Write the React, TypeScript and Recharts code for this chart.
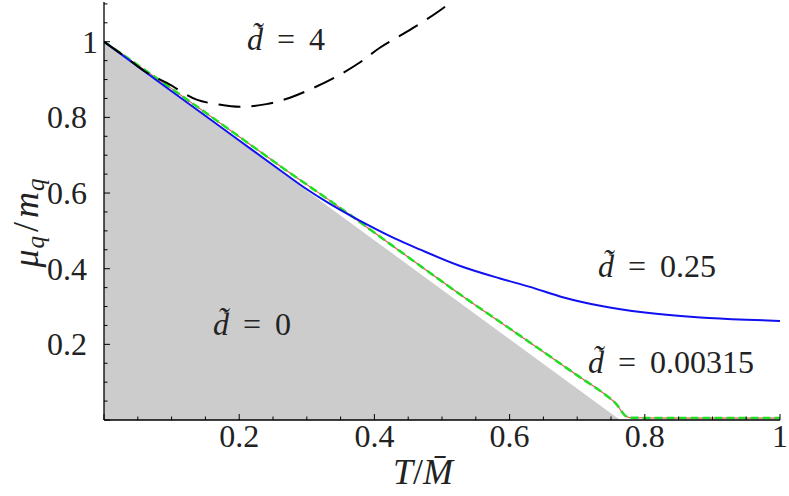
import { ComposedChart, Line, Area, XAxis, YAxis } from 'recharts';

// d~ = 0 region boundary (gray)
const grayT = [0, 0.765, 1];
const grayMu = [1, 0, 0];

// d~ = 4 (black long dash)
const d4T = [0, 0.03, 0.06, 0.093, 0.137, 0.17, 0.201, 0.24, 0.275, 0.31, 0.349, 0.38, 0.408, 0.44, 0.472, 0.512, 0.53];
const d4Mu = [1, 0.962, 0.922, 0.891, 0.847, 0.834, 0.828, 0.835, 0.852, 0.878, 0.913, 0.947, 0.984, 1.018, 1.053, 1.103, 1.13];

// d~ = 0.25 (blue)
const d025T = [0, 0.1, 0.2, 0.26, 0.295, 0.33, 0.36, 0.393, 0.43, 0.467, 0.527, 0.586, 0.63, 0.68, 0.734, 0.8, 0.882, 0.95, 1];
const d025Mu = [1, 0.869, 0.739, 0.661, 0.616, 0.576, 0.545, 0.513, 0.48, 0.451, 0.407, 0.374, 0.352, 0.324, 0.302, 0.284, 0.271, 0.265, 0.262];

// d~ = 0.00315 (green dashed over red)
const dSmallT = [0, 0.1, 0.2, 0.26, 0.35, 0.438, 0.53, 0.63, 0.7, 0.745, 0.758, 0.766, 0.772, 0.78, 0.85, 1];
const dSmallMu = [1, 0.876, 0.749, 0.672, 0.56, 0.446, 0.328, 0.205, 0.118, 0.062, 0.042, 0.022, 0.01, 0.006, 0.005, 0.005];

const xTicks = [0, 0.05, 0.1, 0.15, 0.2, 0.25, 0.3, 0.35, 0.4, 0.45, 0.5, 0.55, 0.6, 0.65, 0.7, 0.75, 0.8, 0.85, 0.9, 0.95, 1];
const yTicks = [0, 0.05, 0.1, 0.15, 0.2, 0.25, 0.3, 0.35, 0.4, 0.45, 0.5, 0.55, 0.6, 0.65, 0.7, 0.75, 0.8, 0.85, 0.9, 0.95, 1, 1.05, 1.1];
const xLabels: Record<string, string> = { '0.2': '0.2', '0.4': '0.4', '0.6': '0.6', '0.8': '0.8', '1': '1' };
const yLabels: Record<string, string> = { '0.2': '0.2', '0.4': '0.4', '0.6': '0.6', '0.8': '0.8', '1': '1' };

const toRows = (ts: number[], ms: number[]) => ts.map((T, i) => ({ T, mu: ms[i] }));
const grayData = toRows(grayT, grayMu);
const d4Data = toRows(d4T, d4Mu);
const d025Data = toRows(d025T, d025Mu);
const dSmallData = toRows(dSmallT, dSmallMu);

const FONT = 'Liberation Serif';
const key = (v: number) => String(Math.round(v * 100) / 100);
const isMajor = (v: number) => Math.abs(v * 10 - Math.round(v * 10)) < 1e-6 && Math.round(v * 10) % 2 === 0;

const BottomTick = (props: any) => {
  const { x, y, payload } = props;
  const label = xLabels[key(payload.value)];
  const len = isMajor(payload.value) ? 6 : 3.5;
  return (
    <g>
      <line x1={x} x2={x} y1={y} y2={y - len} stroke="#000" strokeWidth={1} />
      {label && (
        <text x={x} y={y + 27} textAnchor="middle" fontFamily={FONT} fontSize={32} fill="#222">
          {label}
        </text>
      )}
    </g>
  );
};

const TopTick = (props: any) => {
  const { x, y, payload } = props;
  const len = isMajor(payload.value) ? 6 : 3.5;
  return <line x1={x} x2={x} y1={y} y2={y + len} stroke="#000" strokeWidth={1} />;
};

const LeftTick = (props: any) => {
  const { x, y, payload } = props;
  const label = yLabels[key(payload.value)];
  const len = isMajor(payload.value) ? 6 : 3.5;
  const dx = label === '1' ? -6 : -17;
  return (
    <g>
      <line x1={x} x2={x + len} y1={y} y2={y} stroke="#000" strokeWidth={1} />
      {label && (
        <text x={x + dx} y={y + 11} textAnchor="end" fontFamily={FONT} fontSize={32} fill="#222">
          {label}
        </text>
      )}
    </g>
  );
};

const RightTick = (props: any) => {
  const { x, y, payload } = props;
  const len = isMajor(payload.value) ? 6 : 3.5;
  return <line x1={x} x2={x - len} y1={y} y2={y} stroke="#000" strokeWidth={1} />;
};

const Dlabel = ({ x, y, value }: { x: number; y: number; value: string }) => (
  <text x={x} y={y} fontFamily={FONT} fontSize={32} fill="#222">
    <tspan fontStyle="italic">d̃</tspan>
    <tspan dx={14}>=</tspan>
    <tspan dx={14}>{value}</tspan>
  </text>
);

export default function App() {
  const axisLine = { stroke: '#000', strokeWidth: 1.3 };
  return (
    <div style={{ position: 'fixed', left: 0, top: 0, width: 789, height: 496, background: '#fff' }}>
      <ComposedChart width={789} height={496} margin={{ top: 2, right: 9, bottom: 0, left: 0 }}>
        <XAxis
          type="number"
          dataKey="T"
          domain={[0, 1]}
          ticks={xTicks}
          allowDataOverflow
          height={76}
          axisLine={axisLine}
          tickLine={false}
          tickSize={0}
          tickMargin={0}
          tick={<BottomTick />}
          interval={0}
        />
        <XAxis
          xAxisId="top"
          orientation="top"
          type="number"
          dataKey="T"
          domain={[0, 1]}
          ticks={xTicks}
          height={0}
          axisLine={axisLine}
          tickLine={false}
          tickSize={0}
          tickMargin={0}
          tick={<TopTick />}
          interval={0}
        />
        <YAxis
          type="number"
          dataKey="mu"
          domain={[0, 1.105]}
          ticks={yTicks}
          allowDataOverflow
          width={104}
          axisLine={axisLine}
          tickLine={false}
          tickSize={0}
          tickMargin={0}
          tick={<LeftTick />}
          interval={0}
        />
        <YAxis
          yAxisId="right"
          orientation="right"
          type="number"
          domain={[0, 1.105]}
          ticks={yTicks}
          width={0}
          axisLine={axisLine}
          tickLine={false}
          tickSize={0}
          tickMargin={0}
          tick={<RightTick />}
          interval={0}
        />
        <Area
          data={grayData}
          dataKey="mu"
          type="linear"
          fill="#cccccc"
          fillOpacity={1}
          stroke="#ffffff"
          strokeWidth={1.2}
          isAnimationActive={false}
        />
        <Line data={dSmallData} dataKey="mu" type="monotone" stroke="#e05a5a" strokeWidth={1.2} dot={false} isAnimationActive={false} />
        <Line data={dSmallData} dataKey="mu" type="monotone" stroke="#22dd22" strokeWidth={2.5} strokeDasharray="8 4" dot={false} isAnimationActive={false} />
        <Line data={d025Data} dataKey="mu" type="monotone" stroke="#1010f0" strokeWidth={2} dot={false} isAnimationActive={false} />
        <Line data={d4Data} dataKey="mu" type="monotone" stroke="#000" strokeWidth={2} strokeDasharray="22 11" dot={false} isAnimationActive={false} />
      </ComposedChart>
      <svg width={789} height={496} style={{ position: 'absolute', left: 0, top: 0, pointerEvents: 'none' }}>
        <Dlabel x={247} y={50} value="4" />
        <Dlabel x={598} y={277} value="0.25" />
        <Dlabel x={213} y={335} value="0" />
        <Dlabel x={588} y={373} value="0.00315" />
        <text x={423} y={484} textAnchor="middle" fontFamily={FONT} fontSize={36} fill="#222">
          <tspan fontStyle="italic">T</tspan>
          <tspan>/</tspan>
          <tspan fontStyle="italic">M̄</tspan>
        </text>
        <text x={0} y={0} transform="translate(38,223) rotate(-90)" textAnchor="middle" fontFamily={FONT} fontSize={36} fill="#222">
          <tspan fontStyle="italic">μ</tspan>
          <tspan fontStyle="italic" fontSize={25} dx={1} dy={6}>q</tspan>
          <tspan dx={4} dy={-6}>/</tspan>
          <tspan fontStyle="italic" dx={4}>m</tspan>
          <tspan fontStyle="italic" fontSize={25} dx={1} dy={6}>q</tspan>
        </text>
      </svg>
    </div>
  );
}
